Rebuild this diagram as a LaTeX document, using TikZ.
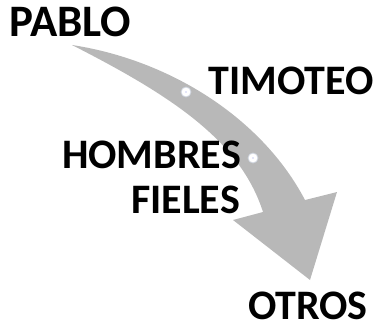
\documentclass[tikz,border=0pt]{standalone}
\usepackage{fontspec}
\setmainfont{Carlito}
\definecolor{arrowgray}{RGB}{184,184,184}
\definecolor{ringgray}{RGB}{205,210,220}
\begin{document}
\begin{tikzpicture}[x=1pt,y=-1pt,
  lbl/.style={font=\bfseries\fontsize{42}{42}\selectfont, inner sep=0pt, text=black, text depth=0pt},
  ring/.style={circle, draw=ringgray, line width=0.8pt, fill=white, minimum size=10pt, inner sep=0pt}]
\useasboundingbox (0,0) rectangle (378,329);
% curved arrow
\fill[arrowgray] (72,45) .. controls (170,60) and (262,118) .. (305,200)
  -- (337,192) -- (310,280) -- (233,220) -- (263,212)
  .. controls (240,140) and (170,95) .. (72,45) -- cycle;
\node[ring] (r1) at (186,92) {};
\node[ring] (r2) at (253,158) {};
\fill[ringgray!70!blue] (r1.center) circle (0.6pt);
\fill[ringgray!70!blue] (r2.center) circle (0.6pt);
% labels
\node[lbl, font=\bfseries\fontsize{45}{45}\selectfont, anchor=base west] (pablo) at (9,37) {PABLO};
\node[lbl, anchor=base east] (timoteo) at (374,95) {TIMOTEO};
\node[lbl, anchor=base east] (hombres) at (241,168) {HOMBRES};
\node[lbl, anchor=base east] (fieles) at (240,213) {FIELES};
\node[lbl, anchor=base east] (otros) at (368,319) {OTROS};
\end{tikzpicture}
\end{document}
